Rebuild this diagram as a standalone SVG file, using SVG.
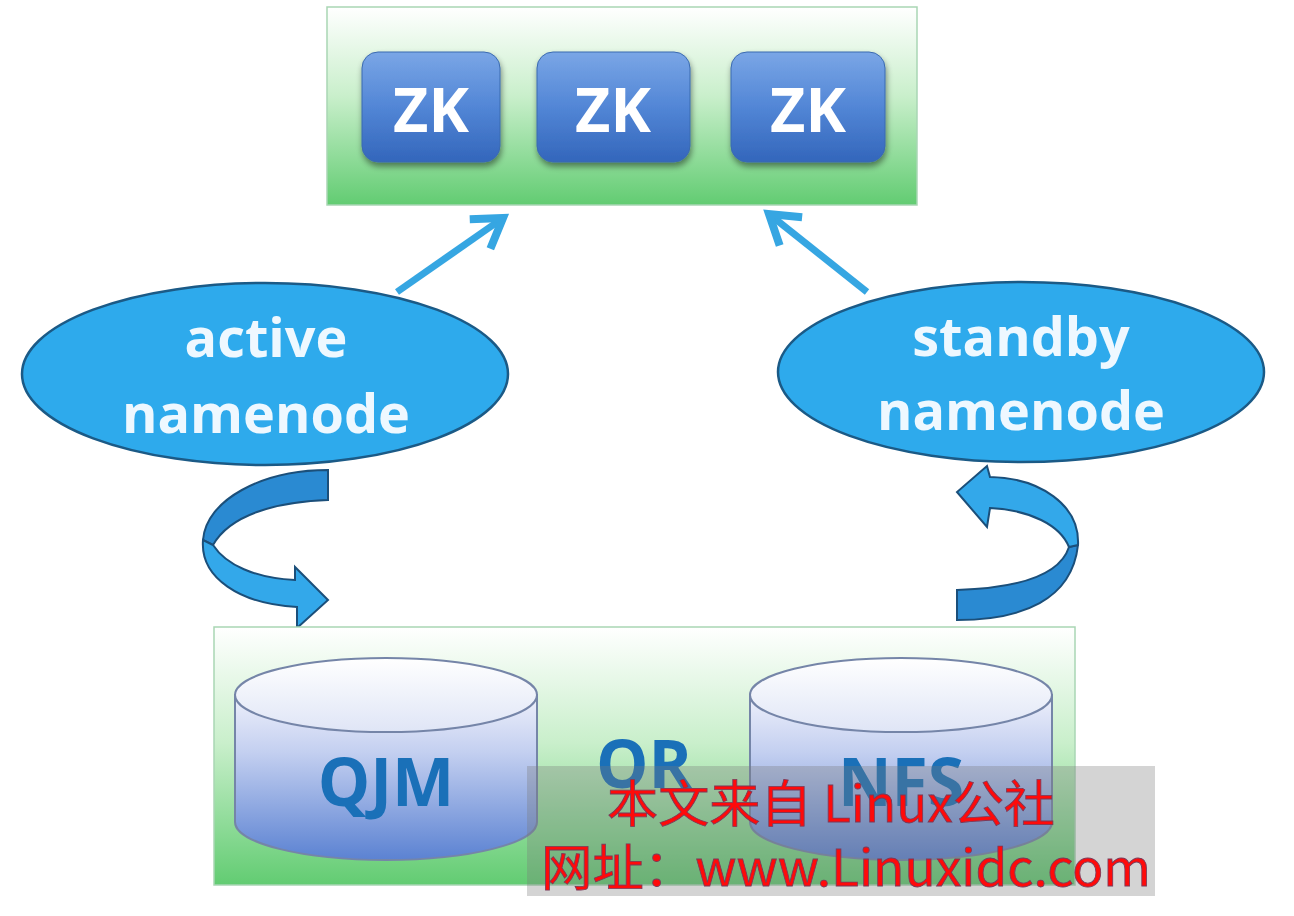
<svg xmlns="http://www.w3.org/2000/svg" width="1294" height="916" viewBox="0 0 1294 916">
<defs>
<linearGradient id="gGreen" x1="0" y1="0" x2="0" y2="1">
<stop offset="0" stop-color="#ffffff"/>
<stop offset="0.45" stop-color="#c9efcb"/>
<stop offset="1" stop-color="#62cc72"/>
</linearGradient>
<linearGradient id="gZK" x1="0" y1="0" x2="0" y2="1">
<stop offset="0" stop-color="#7aa6e6"/>
<stop offset="0.5" stop-color="#5286d6"/>
<stop offset="1" stop-color="#3366bb"/>
</linearGradient>
<linearGradient id="gCyl" x1="0" y1="0" x2="0" y2="1">
<stop offset="0" stop-color="#eef0fb"/>
<stop offset="0.35" stop-color="#c3cff0"/>
<stop offset="1" stop-color="#5b82d2"/>
</linearGradient>
<linearGradient id="gCylTop" x1="0" y1="0" x2="0" y2="1">
<stop offset="0" stop-color="#ffffff"/>
<stop offset="1" stop-color="#dfe5f6"/>
</linearGradient>
<filter id="shadow" x="-10%" y="-10%" width="125%" height="130%">
<feGaussianBlur in="SourceAlpha" stdDeviation="3"/>
<feOffset dx="1" dy="4"/>
<feComponentTransfer><feFuncA type="linear" slope="0.45"/></feComponentTransfer>
<feMerge><feMergeNode/><feMergeNode in="SourceGraphic"/></feMerge>
</filter>
<marker id="chev" markerUnits="userSpaceOnUse" markerWidth="60" markerHeight="60" refX="0" refY="0" viewBox="-40 -30 50 60" orient="auto" overflow="visible">
<path d="M-28,-18 L0,0 L-28,18" fill="none" stroke="#36a6e2" stroke-width="8" stroke-linejoin="miter"/>
</marker>
<style>
.panel{fill:url(#gGreen);stroke:#a9d6b4;stroke-width:1.5}
.zk{fill:url(#gZK);stroke:#3a6ab0;stroke-width:1;filter:url(#shadow)}
.zkt{font-family:"Open Sans","DejaVu Sans",sans-serif;font-weight:700;font-size:61px;fill:#ffffff;text-anchor:middle}
.ell{fill:#2eaaec;stroke:#1b5a86;stroke-width:2.5}
.et{font-family:"Open Sans","DejaVu Sans",sans-serif;font-weight:700;font-size:54px;fill:#eef8ff;text-anchor:middle}
.conn{stroke:#36a6e2;stroke-width:7;fill:none;marker-end:url(#chev)}
.ribD{fill:#2a8ad2;stroke:#1b4f7a;stroke-width:2}
.ribL{fill:#33a8ea;stroke:#1b4f7a;stroke-width:2}
.cyl{fill:url(#gCyl);stroke:#7585a8;stroke-width:2}
.cylTop{fill:url(#gCylTop);stroke:#7585a8;stroke-width:2}
.ct{font-family:"Open Sans","DejaVu Sans",sans-serif;font-weight:700;font-size:66px;fill:#1a70b8;text-anchor:middle}
.wm{font-family:"Noto Sans CJK SC","Noto Sans",sans-serif;font-size:50px;fill:#ff0a0a;stroke:#7a3a5a;stroke-width:0.8}
</style>
</defs>
<rect width="1294" height="916" fill="#ffffff"/>

<g id="zk-cluster">
<rect class="panel" x="327" y="7" width="590" height="198"/>
</g>
<g id="zk1">
<rect class="zk" x="362" y="52" width="138" height="110" rx="16"/>
<text class="zkt" x="431" y="132">ZK</text>
</g>
<g id="zk2">
<rect class="zk" x="537" y="52" width="153" height="110" rx="16"/>
<text class="zkt" x="613" y="132">ZK</text>
</g>
<g id="zk3">
<rect class="zk" x="731" y="52" width="154" height="110" rx="16"/>
<text class="zkt" x="808" y="132">ZK</text>
</g>

<g id="connectors">
<line class="conn" x1="397" y1="292" x2="503" y2="218"/>
<line class="conn" x1="867" y1="292" x2="769" y2="214"/>
<path class="ribD" d="M328,470 L328,500 C275,502 230,515 213,545 L203,540 C206,500 262,470 328,470 Z"/>
<path class="ribL" d="M203,540 C200,578 240,604 297,607 L297,628 L328,600 L295,567 L295,580 C255,578 226,565 213,545 Z"/>
<path class="ribD" d="M957,590 L957,620 C1022,620 1072,600 1078,545 L1069,547 C1060,575 1020,588 957,590 Z"/>
<path class="ribL" d="M1078,545 C1080,505 1040,478 990,477 L987,466 L957,492 L987,527 L990,508 C1030,510 1060,525 1069,547 Z"/>
</g>

<g id="active-namenode">
<ellipse class="ell" cx="265" cy="374" rx="243" ry="91"/>
<text class="et" x="266" y="357">active</text>
<text class="et" x="266" y="433">namenode</text>
</g>
<g id="standby-namenode">
<ellipse class="ell" cx="1021" cy="372" rx="243" ry="90"/>
<text class="et" x="1021" y="356">standby</text>
<text class="et" x="1021" y="430">namenode</text>
</g>

<g id="storage">
<rect class="panel" x="214" y="627" width="861" height="258"/>
</g>
<g id="qjm">
<path class="cyl" d="M235,695 L235,822 A151,38 0 0 0 537,822 L537,695 Z"/>
<ellipse class="cylTop" cx="386" cy="695" rx="151" ry="37"/>
<text class="ct" x="386" y="806">QJM</text>
</g>
<g id="or">
<text class="ct" x="644" y="788">OR</text>
</g>
<g id="nfs">
<path class="cyl" d="M750,695 L750,822 A151,38 0 0 0 1052,822 L1052,695 Z"/>
<ellipse class="cylTop" cx="901" cy="695" rx="151" ry="37"/>
<text class="ct" x="901" y="806">NFS</text>
</g>

<g id="watermark">
<rect x="527" y="766" width="628" height="130" fill="#7a7a7a" fill-opacity="0.32"/>
<text class="wm" x="607" y="822" textLength="448" lengthAdjust="spacingAndGlyphs">本文来自 Linux公社</text>
<text class="wm" x="541" y="886" textLength="610" lengthAdjust="spacingAndGlyphs">网址：www.Linuxidc.com</text>
</g>
</svg>
